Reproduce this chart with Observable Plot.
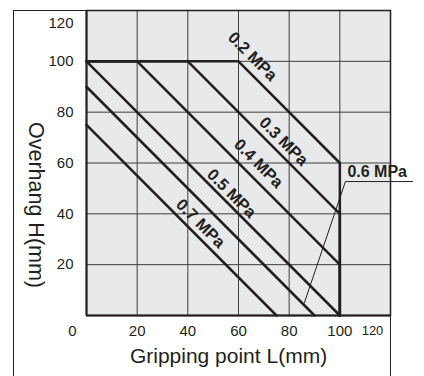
<!DOCTYPE html>
<html>
<head>
<meta charset="utf-8">
<script src="https://cdn.jsdelivr.net/npm/d3@7"></script>
<script src="https://cdn.jsdelivr.net/npm/@observablehq/plot@0.6"></script>
<style>
  html, body { margin: 0; padding: 0; background: #fff; }
  #wrap { position: relative; width: 424px; height: 376px; overflow: hidden; }
  #frame { position: absolute; left: 13px; top: 10px; width: 378px; height: 380px; box-sizing: border-box;
           border-left: 1px solid #231f20; border-top: 1px solid #231f20; border-right: 1.5px solid #231f20; pointer-events: none; }
</style>
</head>
<body>
<div id="wrap"><div id="chart"></div><div id="frame"></div></div>
<script>
// Pressure curves (gripping point L vs overhang H)
const pressures = ["0.2 MPa", "0.3 MPa", "0.4 MPa", "0.5 MPa", "0.6 MPa", "0.7 MPa"];
const lineL = [[0, 60, 100, 100], [0, 40, 100, 100], [0, 20, 100, 100], [0, 100], [0, 90], [0, 75]];
const lineH = [[100, 100, 60, 0], [100, 100, 40, 0], [100, 100, 20, 0], [100, 0], [90, 0], [75, 0]];
// label anchor points (data units)
const labelL = [65.5, 77.8, 67.9, 57.2, 103, 45];
const labelH = [101.9, 68.5, 59.8, 48, 56.6, 36.2];
// leader line for 0.6 MPa label
const leaderL = [86, 102.2, 128.7];
const leaderH = [5, 52.7, 52.7];
// ticks
const xTicks = [20, 40, 60, 80, 100];
const yTicks = [20, 40, 60, 80, 100];
const yTopTick = [120];
const xFirstTick = [0];
const xLastTick = [120];
const gridTicks = [20, 40, 60, 80, 100];
const xTitle = "Gripping point L(mm)";
const yTitle = "Overhang H(mm)";

const ink = "#231f20";
const rows = pressures.flatMap((p, i) => lineL[i].map((L, j) => ({p, L, H: lineH[i][j]})));
const labels = pressures.map((p, i) => ({p, L: labelL[i], H: labelH[i]}));
const rotated = labels.filter(d => d.p !== "0.6 MPa");
const straight = labels.filter(d => d.p === "0.6 MPa");
const leader = leaderL.map((L, i) => ({L, H: leaderH[i]}));

const chart = Plot.plot({
  width: 424,
  height: 376,
  marginLeft: 86,
  marginRight: 34,
  marginTop: 10,
  marginBottom: 61,
  style: {fontFamily: "'Liberation Sans', Arial, sans-serif", fontSize: "15px", color: ink, background: "transparent", overflow: "visible"},
  x: {domain: [0, 120]},
  y: {domain: [0, 120]},
  marks: [
    Plot.frame({fill: "#e8e9ea", stroke: null}),
    Plot.gridX(gridTicks, {stroke: "#3d3d3d", strokeOpacity: 1, strokeWidth: 1}),
    Plot.gridY(gridTicks, {stroke: "#3d3d3d", strokeOpacity: 1, strokeWidth: 1}),
    Plot.frame({stroke: ink, strokeWidth: 1.5}),
    Plot.ruleY([0], {stroke: ink, strokeWidth: 2}),
    Plot.ruleX([0], {stroke: ink, strokeWidth: 2}),
    Plot.line(rows, {x: "L", y: "H", z: "p", stroke: ink, strokeWidth: 2.5, strokeLinejoin: "miter"}),
    Plot.line(leader, {x: "L", y: "H", stroke: ink, strokeWidth: 1, clip: false}),
    Plot.text(rotated, {x: "L", y: "H", text: "p", rotate: 45, fontWeight: "bold", fontSize: 16.5, fill: ink}),
    Plot.text(straight, {x: "L", y: "H", text: "p", textAnchor: "start", fontWeight: "bold", fontSize: 16, fill: ink}),
    Plot.axisY(yTicks, {tickSize: 0, tickPadding: 13, fontSize: 15, label: null, color: ink}),
    Plot.axisY(yTopTick, {tickSize: 0, tickPadding: 13, fontSize: 15, label: null, dy: 13, color: ink}),
    Plot.axisX(xTicks, {tickSize: 0, tickPadding: 10, fontSize: 15, label: null, color: ink}),
    Plot.axisX(xFirstTick, {tickSize: 0, tickPadding: 10, fontSize: 15, label: null, dx: -14, color: ink}),
    Plot.axisX(xLastTick, {tickSize: 0, tickPadding: 10, fontSize: 13, label: null, dx: -18, color: ink}),
    Plot.text([xTitle], {frameAnchor: "bottom", dx: -10, dy: 41, fontSize: 21, fill: ink, lineAnchor: "middle"}),
    Plot.text([yTitle], {frameAnchor: "left", rotate: 90, dx: -51, dy: 42, fontSize: 21.5, fill: ink, textAnchor: "middle", lineAnchor: "middle"})
  ]
});
document.getElementById("chart").appendChild(chart);
</script>
</body>
</html>
